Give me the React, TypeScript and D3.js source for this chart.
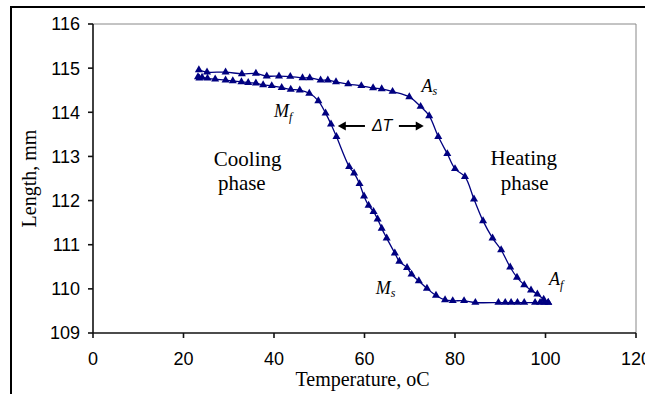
import React from "react";
import * as d3 from "d3";

// Heating branch: temperature (°C) and specimen length (mm)
const heatingT = [23.4, 25.2, 29.3, 32.9, 36.0, 38.4, 41.1, 43.6, 46.3, 47.9, 50.3, 51.9, 53.7, 56.4, 59.3, 61.9, 63.8, 66.2, 69.9, 72.4, 74.3, 76.3, 78.3, 80.0, 82.2, 84.2, 86.2, 88.3, 90.2, 92.2, 93.7, 95.3, 96.8, 98.2, 99.6, 100.6];
const heatingL = [114.96, 114.91, 114.91, 114.87, 114.88, 114.82, 114.82, 114.81, 114.78, 114.78, 114.73, 114.73, 114.69, 114.64, 114.60, 114.55, 114.53, 114.47, 114.35, 114.13, 113.92, 113.45, 113.06, 112.72, 112.54, 112.03, 111.54, 111.15, 110.88, 110.49, 110.26, 110.09, 109.97, 109.88, 109.76, 109.69];

// Cooling branch
const coolingT = [23.2, 23.5, 24.1, 25.3, 27.0, 29.3, 30.9, 32.8, 34.3, 36.0, 37.6, 39.5, 41.7, 43.7, 45.7, 47.8, 49.8, 51.4, 52.6, 53.8, 56.6, 57.7, 58.9, 59.9, 60.9, 62.0, 62.9, 63.8, 64.9, 66.7, 67.7, 69.4, 70.4, 72.0, 73.8, 75.8, 77.8, 79.5, 82.0, 84.5, 89.6, 91.1, 92.4, 93.8, 95.3, 97.7, 98.8, 99.7, 100.6];
const coolingL = [114.80, 114.77, 114.79, 114.77, 114.75, 114.73, 114.71, 114.69, 114.67, 114.66, 114.62, 114.60, 114.56, 114.52, 114.50, 114.43, 114.26, 113.98, 113.73, 113.45, 112.77, 112.62, 112.38, 112.10, 111.89, 111.75, 111.58, 111.37, 111.15, 110.81, 110.62, 110.48, 110.33, 110.18, 110.01, 109.85, 109.75, 109.73, 109.73, 109.69, 109.69, 109.69, 109.69, 109.69, 109.69, 109.69, 109.69, 109.69, 109.69];

const xTicks = [0, 20, 40, 60, 80, 100, 120];
const yTicks = [109, 110, 111, 112, 113, 114, 115, 116];

const serif = "'Liberation Serif', 'Times New Roman', serif";
const sans = "'Liberation Sans', Arial, sans-serif";
const navy = "#000080";

export default function App() {
  const W = 645;
  const H = 394;
  const x = d3.scaleLinear().domain([0, 120]).range([93, 636]);
  const y = d3.scaleLinear().domain([109, 116]).range([333, 24]);

  const heating = heatingT.map((t, i) => [t, heatingL[i]] as [number, number]);
  const cooling = coolingT.map((t, i) => [t, coolingL[i]] as [number, number]);

  const line = d3
    .line<[number, number]>()
    .x((d) => x(d[0]))
    .y((d) => y(d[1]))
    .curve(d3.curveCatmullRom.alpha(0.5));

  const tri = d3.symbol().type(d3.symbolTriangle).size(28)() as string;

  const [x0, x1] = x.range();
  const [yb, yt] = y.range();

  const arrowY = y(113.69);
  const head = (tipX: number, dir: number) =>
    `M${tipX},${arrowY} L${tipX + dir * 8},${arrowY - 4.5} L${tipX + dir * 8},${arrowY + 4.5} Z`;

  return (
    <svg
      width={W}
      height={H}
      style={{ position: "fixed", left: 0, top: 0, display: "block", background: "#fff" }}
    >
      <rect x={0} y={0} width={W} height={H} fill="#fff" />
      {/* outer chart frame */}
      <rect x={11} y={7} width={W + 20} height={H + 20} fill="none" stroke="#000" strokeWidth={2} />

      {/* plot area border */}
      <line x1={x0} y1={yt} x2={x1} y2={yt} stroke="#888" strokeWidth={1} />
      <line x1={x1} y1={yt} x2={x1} y2={yb} stroke="#888" strokeWidth={1} />

      {/* y axis */}
      <line x1={x0} y1={yt} x2={x0} y2={yb} stroke="#111" strokeWidth={1.6} />
      {yTicks.map((v) => (
        <g key={"y" + v}>
          <line x1={x0 - 5} x2={x0} y1={y(v)} y2={y(v)} stroke="#111" strokeWidth={1.6} />
          <text
            x={x0 - 13}
            y={y(v)}
            dy="0.36em"
            textAnchor="end"
            fontFamily={sans}
            fontSize={18}
            fill="#000"
          >
            {v}
          </text>
        </g>
      ))}

      {/* x axis */}
      <line x1={x0} y1={yb} x2={x1} y2={yb} stroke="#111" strokeWidth={1.6} />
      {xTicks.map((v) => (
        <g key={"x" + v}>
          <line x1={x(v)} x2={x(v)} y1={yb} y2={yb + 5} stroke="#111" strokeWidth={1.6} />
          <text x={x(v)} y={365} textAnchor="middle" fontFamily={sans} fontSize={18} fill="#000">
            {v}
          </text>
        </g>
      ))}

      {/* axis titles */}
      <text x={(x0 + x1) / 2 - 2} y={386} textAnchor="middle" fontFamily={serif} fontSize={20} fill="#000">
        Temperature, oC
      </text>
      <text
        transform={`translate(36,${(yt + yb) / 2}) rotate(-90)`}
        textAnchor="middle"
        fontFamily={serif}
        fontSize={20}
        fill="#000"
      >
        Length, mm
      </text>

      {/* data */}
      <path d={line(heating) as string} fill="none" stroke={navy} strokeWidth={1.3} />
      <path d={line(cooling) as string} fill="none" stroke={navy} strokeWidth={1.3} />
      {heating.map((d, i) => (
        <path key={"h" + i} d={tri} transform={`translate(${x(d[0])},${y(d[1])})`} fill={navy} />
      ))}
      {cooling.map((d, i) => (
        <path key={"c" + i} d={tri} transform={`translate(${x(d[0])},${y(d[1])})`} fill={navy} />
      ))}

      {/* phase labels */}
      <text x={x(26.7)} y={y(112.78)} fontFamily={serif} fontSize={21} fill="#000">
        Cooling
      </text>
      <text x={x(27.6)} y={y(112.24)} fontFamily={serif} fontSize={21} fill="#000">
        phase
      </text>
      <text x={x(95.2)} y={y(112.81)} textAnchor="middle" fontFamily={serif} fontSize={21} fill="#000">
        Heating
      </text>
      <text x={x(95.4)} y={y(112.24)} textAnchor="middle" fontFamily={serif} fontSize={21} fill="#000">
        phase
      </text>

      {/* transformation temperatures */}
      <text x={x(40.0)} y={y(113.89)} fontFamily={serif} fontStyle="italic" fontSize={18} fill="#000">
        M<tspan fontSize={12} dy={4}>f</tspan>
      </text>
      <text x={x(72.6)} y={y(114.47)} fontFamily={serif} fontStyle="italic" fontSize={18} fill="#000">
        A<tspan fontSize={12} dy={3}>s</tspan>
      </text>
      <text x={x(62.5)} y={y(109.88)} fontFamily={serif} fontStyle="italic" fontSize={18} fill="#000">
        M<tspan fontSize={12} dy={3}>s</tspan>
      </text>
      <text x={x(100.8)} y={y(110.09)} fontFamily={serif} fontStyle="italic" fontSize={18} fill="#000">
        A<tspan fontSize={12} dy={4}>f</tspan>
      </text>

      {/* hysteresis width ΔT */}
      <line x1={x(54.1) + 6} x2={x(60.1)} y1={arrowY} y2={arrowY} stroke="#000" strokeWidth={2} />
      <path d={head(x(54.1), 1)} fill="#000" />
      <line x1={x(67.6)} x2={x(73.1) - 6} y1={arrowY} y2={arrowY} stroke="#000" strokeWidth={2} />
      <path d={head(x(73.1), -1)} fill="#000" />
      <text x={x(63.9)} y={y(113.58)} textAnchor="middle" fontFamily={sans} fontStyle="italic" fontSize={16} fill="#000">
        ΔT
      </text>
    </svg>
  );
}
